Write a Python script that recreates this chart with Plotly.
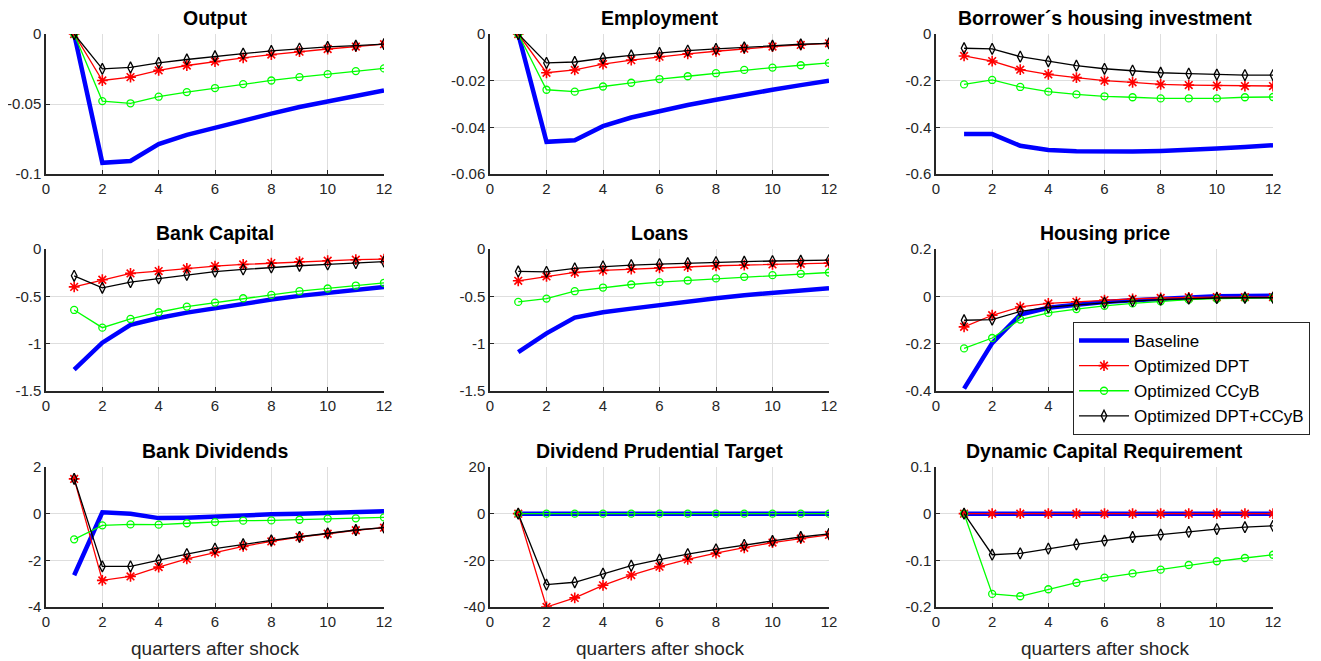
import plotly.graph_objects as go
from plotly.subplots import make_subplots

quarters = list(range(1, 13))
series_names = ["Baseline", "Optimized DPT", "Optimized CCyB", "Optimized DPT+CCyB"]
panel_titles = ["Output", "Employment", "Borrower\u00b4s housing investment",
                "Bank Capital", "Loans", "Housing price",
                "Bank Dividends", "Dividend Prudential Target", "Dynamic Capital Requirement"]

# ---- data ----
output_base = [0, -0.092, -0.0907, -0.0787, -0.072, -0.0668, -0.0616, -0.0569, -0.0521, -0.0479, -0.0438, -0.0403]
output_dpt = [0, -0.0332, -0.0308, -0.026, -0.0225, -0.0197, -0.017, -0.0147, -0.0126, -0.0107, -0.009, -0.0073]
output_ccyb = [0, -0.0479, -0.0495, -0.0448, -0.0415, -0.0386, -0.0358, -0.0332, -0.0308, -0.0287, -0.0265, -0.0246]
output_both = [0, -0.0249, -0.0239, -0.0206, -0.0182, -0.0159, -0.014, -0.0121, -0.0104, -0.0092, -0.0083, -0.0073]

emp_base = [0, -0.0462, -0.0455, -0.0395, -0.0358, -0.033, -0.0304, -0.0282, -0.0259, -0.0239, -0.0219, -0.0200]
emp_dpt = [0, -0.0166, -0.0154, -0.0129, -0.0112, -0.0097, -0.0085, -0.0074, -0.0063, -0.0054, -0.0047, -0.004]
emp_ccyb = [0, -0.0239, -0.0247, -0.0225, -0.0209, -0.0193, -0.0181, -0.0168, -0.0154, -0.0144, -0.0134, -0.0124]
emp_both = [0, -0.0124, -0.012, -0.0104, -0.0092, -0.0081, -0.0071, -0.0064, -0.0057, -0.005, -0.0044, -0.004]

hinv_base = [-0.429, -0.429, -0.479, -0.497, -0.503, -0.504, -0.504, -0.501, -0.497, -0.491, -0.484, -0.477]
hinv_dpt = [-0.094, -0.116, -0.153, -0.173, -0.187, -0.2, -0.207, -0.216, -0.219, -0.221, -0.223, -0.223]
hinv_ccyb = [-0.216, -0.197, -0.227, -0.247, -0.259, -0.267, -0.271, -0.276, -0.276, -0.276, -0.271, -0.27]
hinv_both = [-0.061, -0.064, -0.097, -0.117, -0.136, -0.149, -0.157, -0.166, -0.17, -0.174, -0.176, -0.176]

bcap_base = [-1.273, -0.99, -0.8, -0.729, -0.672, -0.623, -0.577, -0.534, -0.495, -0.46, -0.428, -0.40]
bcap_dpt = [-0.40, -0.325, -0.258, -0.233, -0.205, -0.18, -0.163, -0.149, -0.134, -0.124, -0.113, -0.106]
bcap_ccyb = [-0.644, -0.831, -0.739, -0.668, -0.608, -0.566, -0.52, -0.485, -0.446, -0.417, -0.386, -0.357]
bcap_both = [-0.283, -0.41, -0.35, -0.311, -0.272, -0.24, -0.216, -0.195, -0.177, -0.163, -0.149, -0.134]

loans_base = [-1.09, -0.891, -0.725, -0.669, -0.63, -0.591, -0.552, -0.52, -0.488, -0.46, -0.435, -0.414]
loans_dpt = [-0.336, -0.29, -0.248, -0.226, -0.212, -0.198, -0.187, -0.177, -0.17, -0.163, -0.156, -0.149]
loans_ccyb = [-0.559, -0.524, -0.446, -0.407, -0.375, -0.35, -0.333, -0.311, -0.294, -0.276, -0.262, -0.248]
loans_both = [-0.237, -0.241, -0.205, -0.184, -0.17, -0.159, -0.149, -0.138, -0.134, -0.127, -0.124, -0.117]

hp_base = [-0.39, -0.198, -0.077, -0.048, -0.036, -0.024, -0.017, -0.01, -0.004, 0.0, 0.001, 0.003]
hp_dpt = [-0.129, -0.08, -0.045, -0.03, -0.023, -0.016, -0.011, -0.007, -0.004, -0.003, -0.003, -0.003]
hp_ccyb = [-0.22, -0.176, -0.098, -0.07, -0.054, -0.04, -0.03, -0.021, -0.014, -0.01, -0.007, -0.006]
hp_both = [-0.101, -0.098, -0.064, -0.047, -0.036, -0.027, -0.02, -0.014, -0.01, -0.007, -0.006, -0.006]

div_base = [-2.64, 0.06, 0.0, -0.19, -0.17, -0.11, -0.07, -0.03, 0.0, 0.04, 0.07, 0.1]
div_dpt = [1.49, -2.86, -2.69, -2.29, -1.94, -1.66, -1.4, -1.19, -1.0, -0.86, -0.71, -0.6]
div_ccyb = [-1.1, -0.5, -0.46, -0.47, -0.41, -0.36, -0.3, -0.29, -0.26, -0.21, -0.2, -0.16]
div_both = [1.49, -2.26, -2.26, -1.99, -1.73, -1.5, -1.31, -1.14, -0.99, -0.84, -0.7, -0.6]

dpt_base = [0] * 12
dpt_dpt = [0, -40, -36.1, -30.7, -26.3, -22.7, -19.6, -16.9, -14.6, -12.4, -10.7, -9.1]
dpt_ccyb = [0] * 12
dpt_both = [0, -30.4, -29.4, -25.7, -22.3, -19.7, -17.3, -15.3, -13.4, -11.7, -10.0, -8.7]

dcr_base = [0] * 12
dcr_dpt = [0] * 12
dcr_ccyb = [0, -0.172, -0.177, -0.162, -0.148, -0.137, -0.128, -0.12, -0.11, -0.102, -0.095, -0.088]
dcr_both = [0, -0.088, -0.085, -0.075, -0.066, -0.058, -0.05, -0.045, -0.039, -0.033, -0.029, -0.026]

panels = [
    (output_base, output_dpt, output_ccyb, output_both),
    (emp_base, emp_dpt, emp_ccyb, emp_both),
    (hinv_base, hinv_dpt, hinv_ccyb, hinv_both),
    (bcap_base, bcap_dpt, bcap_ccyb, bcap_both),
    (loans_base, loans_dpt, loans_ccyb, loans_both),
    (hp_base, hp_dpt, hp_ccyb, hp_both),
    (div_base, div_dpt, div_ccyb, div_both),
    (dpt_base, dpt_dpt, dpt_ccyb, dpt_both),
    (dcr_base, dcr_dpt, dcr_ccyb, dcr_both),
]

y_tickvals = [
    [-0.1, -0.05, 0], [-0.06, -0.04, -0.02, 0], [-0.6, -0.4, -0.2, 0],
    [-1.5, -1, -0.5, 0], [-1.5, -1, -0.5, 0], [-0.4, -0.2, 0, 0.2],
    [-4, -2, 0, 2], [-40, -20, 0, 20], [-0.2, -0.1, 0, 0.1],
]
y_ticktext = [
    ["-0.1", "-0.05", "0"], ["-0.06", "-0.04", "-0.02", "0"], ["-0.6", "-0.4", "-0.2", "0"],
    ["-1.5", "-1", "-0.5", "0"], ["-1.5", "-1", "-0.5", "0"], ["-0.4", "-0.2", "0", "0.2"],
    ["-4", "-2", "0", "2"], ["-40", "-20", "0", "20"], ["-0.2", "-0.1", "0", "0.1"],
]
x_tickvals = [0, 2, 4, 6, 8, 10, 12]
x_ticktext = ["0", "2", "4", "6", "8", "10", "12"]
# Housing price panel: labels 6..12 are hidden behind the legend in the reference
x_ticktext_hidden = ["0", "2", "4", "", "", "", ""]
x_label = "quarters after shock"

# ---- layout (reference pixel positions; page has an 8px body margin) ----
W, H = 1321, 661
OFF = 8
FW, FH = W - OFF, H - OFF


def fx(px):
    return (px - OFF) / FW


def fy(py):
    return 1 - (py - OFF) / FH


col_px = [(46, 384), (490, 829), (936, 1273)]
row_px = [(34, 174), (249, 391), (467, 607)]
styles = [
    dict(mode="lines", line=dict(color="#0000ff", width=4.5)),
    dict(mode="lines+markers", line=dict(color="#ff0000", width=1.3),
         marker=dict(symbol="asterisk-open", size=9, color="#ff0000", line=dict(color="#ff0000", width=1.6))),
    dict(mode="lines+markers", line=dict(color="#00ff00", width=1.3),
         marker=dict(symbol="circle-open", size=7, color="#00ff00", line=dict(color="#00ff00", width=1.3))),
    dict(mode="lines+markers", line=dict(color="#000000", width=1.3),
         marker=dict(symbol="diamond-tall-open", size=8, color="#000000", line=dict(color="#000000", width=1.3))),
]

fig = make_subplots(rows=3, cols=3)
FONT = "Liberation Sans, Arial, Helvetica, sans-serif"

for i, data in enumerate(panels):
    r, c = i // 3 + 1, i % 3 + 1
    for k, ys in enumerate(data):
        fig.add_trace(go.Scatter(x=quarters, y=ys, name=series_names[k],
                                 showlegend=(i == 0), legendgroup=series_names[k],
                                 **styles[k]), row=r, col=c)
    x0, x1 = col_px[c - 1]
    y0, y1 = row_px[r - 1]
    yvals = y_tickvals[i]
    fig.update_xaxes(domain=[fx(x0), fx(x1)], range=[0, 12], tickvals=x_tickvals,
                     ticktext=(x_ticktext_hidden if i == 5 else x_ticktext),
                     showgrid=True, gridcolor="#dedede", gridwidth=1, showline=True, linecolor="#262626",
                     linewidth=1.5, ticks="inside", ticklen=4, tickcolor="#262626", zeroline=False,
                     automargin=False,
                     tickfont=dict(family=FONT, size=15, color="#262626"), row=r, col=c)
    fig.update_yaxes(domain=[fy(y1), fy(y0)], range=[yvals[0], yvals[-1]], tickvals=yvals,
                     ticktext=y_ticktext[i], showgrid=True, gridcolor="#dedede", gridwidth=1,
                     showline=True, linecolor="#262626", linewidth=1.5, ticks="inside", ticklen=4,
                     tickcolor="#262626", zeroline=False, automargin=False,
                     tickfont=dict(family=FONT, size=15, color="#262626"), row=r, col=c)
    fig.add_annotation(text="<b>" + panel_titles[i] + "</b>", x=fx((x0 + x1) / 2), y=fy(y0),
                       xref="paper", yref="paper", xanchor="center", yanchor="bottom", yshift=3,
                       showarrow=False, font=dict(family=FONT, size=19.5, color="#000000"))
    if r == 3:
        fig.add_annotation(text=x_label, x=fx((x0 + x1) / 2), y=fy(648), xref="paper", yref="paper",
                           xanchor="center", yanchor="middle", showarrow=False,
                           font=dict(family=FONT, size=19, color="#262626"))

fig.update_layout(
    width=FW, height=FH, margin=dict(l=0, r=0, t=0, b=0),
    paper_bgcolor="white", plot_bgcolor="white",
    font=dict(family=FONT, color="#262626"),
    legend=dict(x=fx(1073), y=fy(322), xanchor="left", yanchor="top",
                bgcolor="white", bordercolor="#262626", borderwidth=1, itemwidth=50,
                font=dict(family=FONT, size=17, color="#000000"), tracegroupgap=0),
)

fig.write_html("out.html")
